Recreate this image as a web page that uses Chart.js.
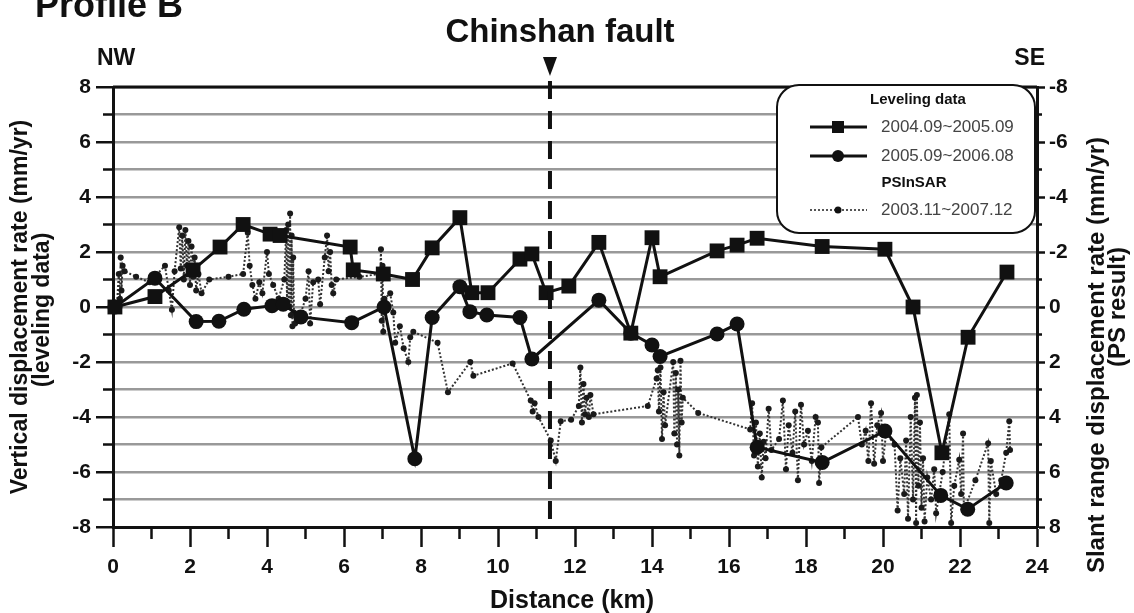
<!DOCTYPE html>
<html>
<head>
<meta charset="utf-8">
<script src="https://cdn.jsdelivr.net/npm/chart.js@4.4.1/dist/chart.umd.min.js"></script>
<style>
  html, body { margin: 0; padding: 0; background: #fff; }
  #wrap { width: 1134px; height: 613px; }
</style>
</head>
<body>
<div id="wrap"><canvas id="chart" width="1134" height="613"></canvas></div>
<script>
// Leveling data 2004.09~2005.09 (squares), vertical rate mm/yr
const levA_dist = [0.05, 1.09, 2.08, 2.78, 3.38, 4.08, 4.34, 6.16, 6.24, 7.02, 7.78, 8.29, 9.01, 9.32, 9.74, 10.57,
  10.88, 11.25, 11.84, 12.62, 13.45, 14.00, 14.21, 15.69, 16.21, 16.73, 18.42, 20.05, 20.78, 21.53, 22.21, 23.22];
const levA_rate = [0.0, 0.38, 1.35, 2.18, 3.0, 2.65, 2.6, 2.18, 1.35, 1.2, 1.0, 2.15, 3.25, 0.52, 0.52, 1.74,
  1.93, 0.52, 0.76, 2.35, -0.95, 2.52, 1.10, 2.04, 2.25, 2.5, 2.2, 2.1, 0.0, -5.3, -1.1, 1.27];

// Leveling data 2005.09~2006.08 (circles)
const levB_dist = [0.05, 1.09, 2.16, 2.75, 3.40, 4.13, 4.42, 4.88, 6.20, 7.04, 7.84, 8.29, 9.01, 9.27, 9.71,
  10.57, 10.88, 12.62, 13.45, 14.00, 14.21, 15.69, 16.21, 16.73, 18.42, 20.05, 21.50, 22.20, 23.20];
const levB_rate = [0.0, 1.05, -0.53, -0.52, -0.08, 0.05, 0.1, -0.36, -0.57, 0.0, -5.52, -0.38, 0.74, -0.17, -0.29,
  -0.38, -1.89, 0.25, -0.95, -1.38, -1.8, -0.98, -0.62, -5.1, -5.65, -4.51, -6.85, -7.35, -6.4];

// PSInSAR 2003.11~2007.12, slant range rate (right axis, reversed)
const ps_dist = [
  0.10, 0.15, 0.18, 0.20, 0.22, 0.25, 0.30, 0.60, 0.95, 1.35, 1.45, 1.53, 1.60,
  1.72, 1.76, 1.80, 1.84, 1.88, 1.92, 1.96, 2.00, 2.04, 2.08, 2.12, 2.16, 2.22, 2.30, 2.50, 3.00, 3.38,
  3.50, 3.55, 3.62, 3.70, 3.80, 3.88, 4.00, 4.05, 4.16, 4.30,
  4.45, 4.50, 4.52, 4.55, 4.57, 4.60, 4.62, 4.64, 4.66, 4.68, 4.70, 4.73, 4.86, 5.00, 5.08, 5.12, 5.20, 5.33, 5.38,
  5.50, 5.56, 5.60, 5.64, 5.68, 5.72, 5.80, 6.40, 6.94,
  6.96, 6.98, 7.00, 7.02, 7.05, 7.20, 7.28, 7.33, 7.45, 7.55, 7.67, 7.72, 7.80, 8.43, 8.70, 9.28, 9.36, 10.38,
  10.85, 10.90, 10.95, 11.05, 11.37, 11.50, 11.63, 11.90,
  12.10, 12.14, 12.18, 12.22, 12.26, 12.30, 12.36, 12.40, 12.48, 13.89,
  14.12, 14.15, 14.18, 14.22, 14.26, 14.30, 14.34,
  14.55, 14.58, 14.62, 14.65, 14.68, 14.71, 14.74, 14.77, 14.80, 15.20, 16.55,
  16.60, 16.65, 16.70, 16.75, 16.80, 16.85, 16.90, 16.95, 17.03, 17.10,
  17.30, 17.40, 17.48, 17.55, 17.65, 17.72, 17.79, 17.87, 17.95, 18.05, 18.15, 18.25, 18.31, 18.34, 18.40,
  19.35, 19.45, 19.55, 19.62, 19.69, 19.77, 19.85, 19.95, 20.00, 20.08,
  20.30, 20.38, 20.45, 20.55, 20.60, 20.65, 20.72, 20.78, 20.83, 20.86, 20.88, 20.92, 20.96, 21.00, 21.04, 21.08,
  21.15, 21.25, 21.33, 21.38, 21.55, 21.72, 21.77, 21.85, 21.98, 22.03, 22.08, 22.10, 22.40, 22.73, 22.76, 22.80,
  22.94, 23.07, 23.20, 23.28, 23.30
];
const ps_rate = [
  0.0, -1.2, -0.3, -1.8, -0.6, -1.5, -1.3, -1.1, -0.9, -1.5, -0.6, 0.1, -1.3,
  -2.9, -1.4, -2.6, -1.0, -2.8, -1.5, -2.4, -0.8, -2.2, -1.1, -1.8, -0.6, -1.2, -0.5, -1.0, -1.1, -1.2,
  -2.7, -1.5, -0.8, -0.3, -0.9, -0.5, -2.0, -1.2, -0.8, -0.3,
  -1.0, -2.8, -0.2, -3.0, 0.0, -3.4, 0.3, -2.6, 0.7, -1.8, 0.2, 0.6, 0.3, -0.3, -1.3, 0.6, -0.9, -1.0, -0.1,
  -1.8, -2.6, -1.3, -2.0, -0.8, -0.5, -1.0, -1.1, -1.2,
  -2.1, 0.5, -1.5, 0.9, -0.3, -0.5, 0.2, 1.3, 0.7, 1.5, 2.0, 1.1, 0.9, 1.3, 3.1, 2.0, 2.5, 2.05,
  3.4, 3.8, 3.5, 4.0, 4.85, 5.6, 4.15, 4.1,
  3.6, 2.2, 4.2, 2.8, 3.9, 3.3, 4.0, 3.2, 3.9, 3.6,
  2.6, 2.3, 3.8, 2.2, 4.8, 3.1, 4.3,
  2.0, 4.6, 2.4, 5.0, 3.0, 5.4, 1.95, 4.2, 3.3, 3.85, 4.45,
  3.5, 5.4, 4.2, 5.8, 4.6, 6.2, 4.9, 5.5, 3.7, 5.2,
  4.8, 3.4, 5.9, 4.3, 5.3, 3.8, 6.3, 3.55, 5.0, 4.5, 5.6, 4.0, 4.2, 6.4, 5.1,
  4.0, 5.0, 4.5, 5.6, 3.5, 5.7, 4.3, 3.85, 5.6, 4.6,
  5.0, 7.4, 5.5, 6.8, 4.85, 7.7, 4.0, 7.0, 3.3, 7.85, 3.2, 6.5, 4.2, 7.3, 5.5, 7.8,
  6.2, 7.0, 5.9, 7.5, 6.0, 3.9, 7.85, 6.5, 5.55, 6.8, 4.6, 7.4, 6.3, 4.95, 7.85, 5.6,
  6.8, 6.3, 5.3, 4.15, 5.2
];

const faultDist = 11.35;
const legendLabels = ['2004.09~2005.09', '2005.09~2006.08', '2003.11~2007.12'];

const FONT = "'Liberation Sans', Arial, sans-serif";
const INK = '#111';

const toPoints = (xs, ys) => xs.map((x, i) => ({ x: x, y: ys[i] }));
const isEven = v => Math.abs(Math.round(v)) % 2 === 0;

// fault line, frame, minor ticks, legend box, titles
const decor = {
  id: 'decor',
  afterDatasetsDraw(chart) {
    const { ctx, chartArea, scales } = chart;
    const fx = scales.x.getPixelForValue(faultDist);
    ctx.save();
    ctx.strokeStyle = INK;
    ctx.lineWidth = 4;
    ctx.setLineDash([18, 12]);
    ctx.beginPath();
    ctx.moveTo(fx, chartArea.top - 6);
    ctx.lineTo(fx, chartArea.bottom);
    ctx.stroke();
    ctx.restore();
  },
  afterDraw(chart) {
    const { ctx, chartArea, scales } = chart;
    const { left, right, top, bottom } = chartArea;
    ctx.save();

    // frame top
    ctx.strokeStyle = INK;
    ctx.lineWidth = 3;
    ctx.beginPath();
    ctx.moveTo(left, top);
    ctx.lineTo(right, top);
    ctx.stroke();

    // minor ticks at odd values
    ctx.lineWidth = 2.5;
    ctx.beginPath();
    for (let v = 1; v < 24; v += 2) {
      const px = scales.x.getPixelForValue(v);
      ctx.moveTo(px, bottom);
      ctx.lineTo(px, bottom + 12);
    }
    for (let v = -7; v <= 7; v += 2) {
      const py = scales.y.getPixelForValue(v);
      ctx.moveTo(left, py);
      ctx.lineTo(left - 10, py);
      const py2 = scales.y2.getPixelForValue(v);
      ctx.moveTo(right, py2);
      ctx.lineTo(right + 5, py2);
    }
    ctx.stroke();

    // fault marker
    const fx = scales.x.getPixelForValue(faultDist);
    ctx.fillStyle = INK;
    ctx.beginPath();
    ctx.moveTo(fx - 7, 57);
    ctx.lineTo(fx + 7, 57);
    ctx.lineTo(fx, 76);
    ctx.closePath();
    ctx.fill();

    // legend box
    const bx = right - 260, by = top - 2, bw = 258, bh = 148, r = 22;
    ctx.beginPath();
    ctx.roundRect(bx, by, bw, bh, r);
    ctx.fillStyle = '#fff';
    ctx.fill();
    ctx.lineWidth = 2;
    ctx.strokeStyle = INK;
    ctx.stroke();

    const lx0 = bx + 33, lx1 = bx + 90, mx = bx + 61, tx = bx + 104;
    ctx.textBaseline = 'middle';
    ctx.fillStyle = INK;
    ctx.textAlign = 'center';
    ctx.font = 'bold 15px ' + FONT;
    ctx.fillText('Leveling data', bx + 141, by + 15);
    ctx.fillText('PSInSAR', bx + 137, by + 98);

    const rows = [by + 42, by + 71, by + 125];
    ctx.textAlign = 'left';
    ctx.font = '17px ' + FONT;
    ctx.fillStyle = '#444';
    legendLabels.forEach((t, i) => ctx.fillText(t, tx, rows[i]));

    ctx.strokeStyle = INK;
    ctx.lineWidth = 3;
    ctx.beginPath();
    ctx.moveTo(lx0, rows[0]); ctx.lineTo(lx1, rows[0]);
    ctx.moveTo(lx0, rows[1]); ctx.lineTo(lx1, rows[1]);
    ctx.stroke();
    ctx.fillStyle = INK;
    ctx.fillRect(mx - 6, rows[0] - 6, 12, 12);
    ctx.beginPath();
    ctx.arc(mx, rows[1], 6, 0, Math.PI * 2);
    ctx.fill();
    ctx.strokeStyle = '#555';
    ctx.lineWidth = 1.8;
    ctx.setLineDash([2, 2]);
    ctx.beginPath();
    ctx.moveTo(lx0, rows[2]); ctx.lineTo(lx1, rows[2]);
    ctx.stroke();
    ctx.setLineDash([]);
    ctx.fillStyle = '#111';
    ctx.beginPath();
    ctx.arc(mx, rows[2], 3.5, 0, Math.PI * 2);
    ctx.fill();

    // titles
    ctx.fillStyle = INK;
    ctx.textBaseline = 'alphabetic';
    ctx.textAlign = 'left';
    ctx.font = 'bold 36px ' + FONT;
    ctx.fillText('Profile B', 35, 17);
    ctx.font = 'bold 23px ' + FONT;
    ctx.fillText('NW', 97, 65);
    ctx.textAlign = 'right';
    ctx.fillText('SE', 1045, 65);
    ctx.textAlign = 'center';
    ctx.font = 'bold 33px ' + FONT;
    ctx.fillText('Chinshan fault', 560, 42);
    ctx.font = 'bold 25px ' + FONT;
    ctx.fillText('Distance (km)', 572, 608);

    const mid = (top + bottom) / 2;
    ctx.textBaseline = 'middle';
    const vtext = (t, x, y) => {
      ctx.save();
      ctx.translate(x, y);
      ctx.rotate(-Math.PI / 2);
      ctx.fillText(t, 0, 0);
      ctx.restore();
    };
    ctx.font = 'bold 23px ' + FONT;
    vtext('Vertical displacement rate (mm/yr)', 21, mid);
    vtext('(leveling data)', 43, mid + 3);
    ctx.font = 'bold 24px ' + FONT;
    vtext('Slant range displacement rate (mm/yr)', 1097, mid + 48);
    vtext('(PS result)', 1118, mid);

    ctx.restore();
  }
};

const tickFont = { family: FONT, size: 21, weight: 'bold' };
const majorTick = c => (c.tick && isEven(c.tick.value)) ? INK : 'rgba(0,0,0,0)';

new Chart(document.getElementById('chart'), {
  type: 'scatter',
  data: {
    datasets: [
      {
        label: legendLabels[0],
        data: toPoints(levA_dist, levA_rate),
        yAxisID: 'y',
        showLine: true,
        borderColor: INK,
        borderWidth: 3,
        pointStyle: 'rect',
        pointRadius: 10.5,
        pointBackgroundColor: INK,
        pointBorderWidth: 0,
        clip: false
      },
      {
        label: legendLabels[1],
        data: toPoints(levB_dist, levB_rate),
        yAxisID: 'y',
        showLine: true,
        borderColor: INK,
        borderWidth: 3,
        pointStyle: 'circle',
        pointRadius: 7.5,
        pointBackgroundColor: INK,
        pointBorderWidth: 0,
        clip: false
      },
      {
        label: legendLabels[2],
        data: toPoints(ps_dist, ps_rate),
        yAxisID: 'y2',
        showLine: true,
        borderColor: '#333',
        borderWidth: 2,
        borderDash: [2, 2],
        pointRadius: 3,
        pointBackgroundColor: '#1a1a1a',
        pointBorderWidth: 0,
        clip: false
      }
    ]
  },
  options: {
    responsive: false,
    animation: false,
    layout: { padding: { top: 87, left: 0, right: 0, bottom: 0 } },
    plugins: { legend: { display: false }, tooltip: { enabled: false } },
    scales: {
      x: {
        type: 'linear',
        position: 'bottom',
        min: 0,
        max: 24,
        afterFit: s => { s.height = 86; },
        ticks: {
          stepSize: 1,
          autoSkip: false,
          maxRotation: 0,
          padding: 8,
          color: INK,
          font: tickFont,
          callback: v => isEven(v) ? String(v) : ''
        },
        grid: { drawOnChartArea: false, tickLength: 20, tickWidth: 2.5, tickColor: majorTick },
        border: { display: true, color: INK, width: 3 }
      },
      y: {
        position: 'left',
        min: -8,
        max: 8,
        afterFit: s => { s.width = 113; },
        ticks: {
          stepSize: 1,
          autoSkip: false,
          padding: 5,
          color: INK,
          font: tickFont,
          callback: v => isEven(v) ? String(v) : ''
        },
        grid: {
          color: '#999',
          lineWidth: 2.5,
          tickLength: 17,
          tickColor: majorTick
        },
        border: { display: true, color: INK, width: 3 }
      },
      y2: {
        position: 'right',
        min: -8,
        max: 8,
        reverse: true,
        afterFit: s => { s.width = 97; },
        ticks: {
          stepSize: 1,
          autoSkip: false,
          padding: 4,
          color: INK,
          font: tickFont,
          callback: v => isEven(v) ? String(v) : ''
        },
        grid: { drawOnChartArea: false, tickLength: 8, tickWidth: 2.5, tickColor: majorTick },
        border: { display: true, color: INK, width: 3 }
      }
    }
  },
  plugins: [decor]
});
</script>
</body>
</html>
